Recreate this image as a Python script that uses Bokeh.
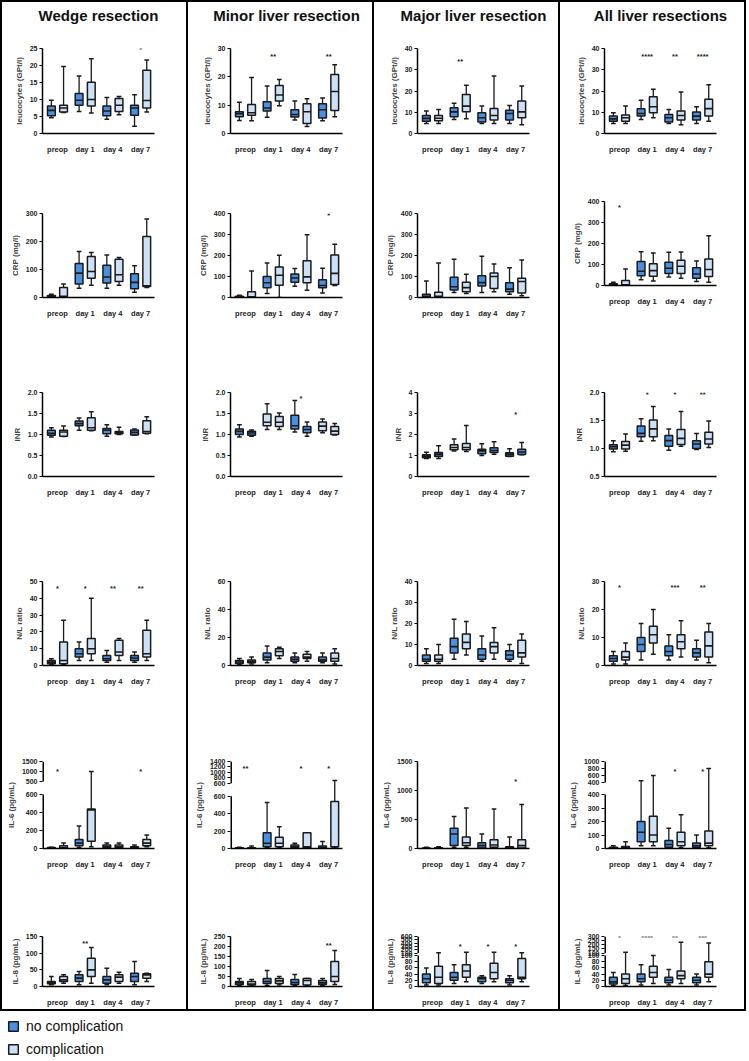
import numpy as np
from bokeh.plotting import figure
from bokeh.layouts import column, row
from bokeh.models import FixedTicker, Range1d, Legend, LegendItem, PrintfTickFormatter
from bokeh.embed import file_html
from bokeh.resources import INLINE
from bokeh.core.properties import value

FONT = "Liberation Sans"
NC_COLOR = "#4a8fe0"
C_COLOR = "#cde1f6"
DARK_COLOR = "#34589c"

groups = ["preop", "day 1", "day 4", "day 7"]
col_titles = ["Wedge resection", "Minor liver resection", "Major liver resection", "All liver resections"]
row_labels = ["leucocytes (GPt/l)", "CRP (mg/l)", "INR", "N/L ratio", "IL-6 (pg/mL)", "IL-8 (pg/mL)"]
legend_labels = ["no complication", "complication"]

# each tuple: (whisker low, Q1, median, Q3, whisker high)
leu_wedge_noc = [(4.6, 5.2, 6.8, 8.1, 9.8), (6.5, 8.3, 9.8, 11.8, 16.9), (4.2, 5.2, 6.6, 8.1, 10.6), (2.1, 5.4, 7.5, 8.3, 11.4)]
leu_wedge_com = [(6.2, 6.3, 7.5, 8.3, 19.7), (6.0, 8.1, 10.0, 15.1, 22.0), (5.5, 6.5, 8.3, 10.3, 10.9), (6.3, 7.5, 9.7, 18.6, 21.6)]
leu_minor_noc = [(4.6, 5.9, 7.0, 7.7, 11.0), (5.7, 7.9, 9.0, 11.2, 16.8), (4.8, 5.8, 6.7, 8.4, 11.5), (4.5, 5.5, 8.4, 10.5, 12.5)]
leu_minor_com = [(4.5, 6.4, 7.3, 10.2, 19.8), (9.8, 11.5, 13.6, 16.9, 19.1), (2.5, 3.5, 7.7, 10.5, 12.3), (5.9, 8.1, 14.8, 20.8, 24.3)]
leu_major_noc = [(4.7, 5.8, 7.1, 8.5, 10.6), (6.6, 7.9, 10.2, 12.1, 14.2), (4.7, 5.4, 7.4, 9.8, 12.9), (4.7, 6.3, 9.4, 11.0, 13.2)]
leu_major_com = [(4.7, 6.0, 7.2, 8.5, 11.3), (6.9, 10.2, 12.9, 18.4, 22.7), (4.7, 6.3, 8.5, 11.8, 27.1), (4.1, 7.4, 10.2, 15.3, 22.4)]
leu_all_noc = [(4.7, 5.8, 6.9, 8.2, 9.8), (6.6, 8.2, 9.4, 11.7, 15.6), (4.7, 5.4, 7.4, 9.0, 11.3), (4.7, 6.3, 8.2, 10.1, 12.6)]
leu_all_com = [(4.7, 5.8, 7.4, 8.7, 12.9), (7.4, 9.8, 12.6, 17.3, 20.8), (4.1, 6.3, 8.5, 10.6, 19.5), (5.8, 8.2, 11.7, 16.1, 23.0)]
leu_sig = [["", "", "", "*"], ["", "**", "", "**"], ["", "**", "", ""], ["", "****", "**", "****"]]
leu_sig_level = [24.8, 27.2, 33.7, 36.2]

crp_wedge_noc = [(1, 2, 5, 7, 12), (33, 48, 87, 121, 164), (33, 52, 73, 115, 152), (19, 31, 54, 85, 113)]
crp_wedge_com = [(1, 2, 4, 36, 48), (44, 69, 93, 146, 161), (44, 57, 81, 137, 143), (36, 39, 42, 218, 280)]
crp_minor_noc = [(0, 0, 3, 6, 11), (19, 46, 70, 100, 164), (54, 73, 93, 112, 138), (22, 47, 57, 84, 139)]
crp_minor_com = [(0, 0, 3, 27, 126), (0, 58, 106, 145, 201), (35, 70, 98, 175, 299), (57, 62, 115, 202, 253)]
crp_major_noc = [(2, 3, 6, 16, 79), (24, 36, 51, 96, 182), (24, 55, 71, 103, 196), (16, 27, 40, 70, 142)]
crp_major_com = [(2, 2, 6, 25, 164), (19, 27, 47, 73, 111), (27, 43, 100, 117, 160), (8, 21, 76, 92, 179)]
crp_all_noc = [(0, 0, 3, 8, 16), (27, 47, 68, 114, 161), (40, 57, 82, 111, 158), (19, 35, 55, 84, 117)]
crp_all_com = [(0, 0, 3, 24, 79), (22, 44, 71, 104, 155), (35, 57, 92, 120, 160), (16, 43, 76, 126, 237)]
crp_sig = [["", "", "", "*"], ["", "", "", "*"], ["", "", "", ""], ["*", "", "", ""]]
crp_sig_level = [305, 392, 390, 373]

inr_wedge_noc = [(0.94, 0.98, 1.03, 1.10, 1.16), (1.10, 1.21, 1.26, 1.32, 1.39), (0.96, 1.02, 1.10, 1.14, 1.23), (0.98, 0.99, 1.05, 1.11, 1.13)]
inr_wedge_com = [(0.95, 0.96, 1.06, 1.10, 1.20), (1.09, 1.10, 1.16, 1.40, 1.54), (1.00, 1.02, 1.05, 1.07, 1.17), (1.02, 1.03, 1.07, 1.33, 1.42)]
inr_minor_noc = [(0.94, 1.00, 1.075, 1.13, 1.23), (1.12, 1.21, 1.29, 1.49, 1.73), (1.06, 1.13, 1.21, 1.46, 1.81), (1.04, 1.09, 1.20, 1.30, 1.37)]
inr_minor_com = [(0.96, 0.98, 1.035, 1.075, 1.11), (1.12, 1.19, 1.29, 1.43, 1.51), (0.96, 1.04, 1.12, 1.19, 1.30), (0.99, 1.00, 1.08, 1.19, 1.26)]
inr_major_noc = [(0.86, 0.89, 0.97, 1.03, 1.16), (1.22, 1.27, 1.38, 1.51, 1.79), (1.00, 1.08, 1.22, 1.30, 1.56), (0.95, 0.97, 1.06, 1.13, 1.32)]
inr_major_com = [(0.86, 0.95, 1.06, 1.14, 1.46), (1.19, 1.27, 1.38, 1.57, 2.43), (1.06, 1.14, 1.24, 1.37, 1.65), (1.03, 1.05, 1.17, 1.30, 1.62)]
inr_all_noc = [(0.94, 0.99, 1.03, 1.065, 1.14), (1.13, 1.21, 1.27, 1.40, 1.53), (0.97, 1.04, 1.14, 1.23, 1.35), (0.98, 1.00, 1.08, 1.14, 1.27)]
inr_all_com = [(0.95, 0.99, 1.06, 1.125, 1.26), (1.14, 1.21, 1.35, 1.51, 1.75), (1.04, 1.07, 1.18, 1.34, 1.66), (1.02, 1.08, 1.17, 1.29, 1.49)]
inr_sig = [["", "", "", ""], ["", "", "*", ""], ["", "", "", "*"], ["", "*", "*", "**"]]
inr_sig_level = [1.9, 1.86, 2.95, 1.97]
# box colours as printed in the source figure (some INR panels use other shades)
inr_minor_fill = ["nc", "nc", "c", "c", "nc", "nc", "c", "c"]
inr_major_fill = ["dark", "dark", "c", "c", "nc", "nc", "dark", "nc"]

nl_wedge_noc = [(0.5, 1, 2, 3, 4), (3, 5, 7, 10, 14), (2, 3, 4, 6, 9), (2, 3, 4.5, 6, 8)]
nl_wedge_com = [(0.5, 1, 3, 14, 27), (3, 7, 10, 16, 40), (3, 6, 8, 15, 16), (3, 5, 7, 21, 27)]
nl_minor_noc = [(0.5, 1.5, 2.5, 3.5, 5), (2, 4, 6, 9, 14), (2, 3, 4.5, 6, 9), (2, 3, 4, 6, 9)]
nl_minor_com = [(1, 2, 3, 4, 6), (5, 7, 10, 12, 13), (3, 5, 6, 8, 10), (1, 3, 5, 9, 12)]
nl_major_noc = [(1, 2, 3, 5, 8), (3, 6, 9, 13, 22), (2, 3, 5, 8, 14), (2, 3, 5, 7, 10)]
nl_major_com = [(1, 2, 3, 5, 10), (5, 8, 11, 15, 21), (3, 6, 9, 11, 18), (1, 4, 6, 12, 15)]
nl_all_noc = [(0.5, 1.5, 2.5, 3.5, 5), (2, 5, 7.5, 10, 15), (2, 3.5, 5, 7, 11), (2, 3, 4.5, 6, 9)]
nl_all_com = [(0.5, 2, 3, 5, 8), (4, 8, 11, 14, 20), (3, 6, 8.5, 11, 16), (1, 3, 7, 12, 15)]
nl_sig = [["*", "*", "**", "**"], ["", "", "", ""], ["", "", "", ""], ["*", "", "***", "**"]]
nl_sig_level = [46, 55, 37, 28]

il6_wedge_noc = [(0, 2, 5, 10, 15), (10, 30, 60, 100, 250), (5, 10, 20, 40, 60), (2, 5, 10, 20, 40)]
il6_wedge_com = [(2, 5, 10, 30, 60), (20, 80, 430, 440, 1000), (5, 10, 20, 40, 60), (20, 30, 60, 100, 150)]
il6_minor_noc = [(0, 2, 4, 8, 15), (10, 20, 60, 180, 530), (5, 10, 20, 40, 60), (2, 5, 10, 30, 80)]
il6_minor_com = [(0, 2, 5, 10, 30), (10, 20, 60, 130, 250), (5, 10, 20, 180, 180), (5, 20, 20, 540, 700)]
il6_major_noc = [(0, 2, 5, 10, 20), (20, 50, 250, 350, 550), (5, 10, 50, 100, 250), (2, 5, 10, 30, 200)]
il6_major_com = [(0, 2, 5, 15, 30), (20, 50, 100, 200, 700), (10, 20, 60, 150, 680), (5, 10, 50, 150, 760)]
il6_all_noc = [(0, 2, 5, 10, 20), (20, 50, 120, 200, 450), (5, 10, 30, 60, 150), (2, 10, 20, 40, 100)]
il6_all_com = [(0, 2, 5, 15, 50), (20, 50, 100, 240, 600), (5, 20, 50, 120, 250), (5, 20, 40, 130, 800)]
il6_sig = [["*", "", "", "*"], ["**", "", "*", "*"], ["", "", "", "*"], ["", "", "*", "*"]]
il6_sig_level = [1000, 1150, 1150, 700]

il8_wedge_noc = [(5, 8, 12, 15, 30), (5, 15, 25, 35, 45), (5, 10, 20, 30, 55), (5, 15, 30, 40, 75)]
il8_wedge_com = [(10, 15, 20, 30, 35), (10, 30, 50, 85, 117), (10, 15, 28, 35, 43), (15, 25, 35, 38, 40)]
il8_minor_noc = [(5, 10, 18, 25, 40), (5, 15, 25, 40, 80), (5, 10, 20, 35, 60), (5, 10, 18, 30, 40)]
il8_minor_com = [(3, 8, 12, 25, 35), (8, 15, 28, 40, 50), (5, 8, 30, 40, 40), (10, 25, 50, 125, 180)]
il8_major_noc = [(5, 12, 25, 40, 60), (10, 20, 30, 45, 70), (10, 15, 25, 30, 35), (5, 12, 20, 25, 35)]
il8_major_com = [(5, 10, 30, 65, 110), (15, 30, 50, 70, 120), (15, 25, 45, 75, 120), (15, 25, 30, 90, 110)]
il8_all_noc = [(3, 8, 15, 30, 45), (5, 15, 25, 40, 70), (5, 12, 20, 30, 55), (5, 12, 20, 30, 40)]
il8_all_com = [(3, 10, 25, 40, 110), (10, 30, 45, 65, 100), (10, 25, 35, 50, 230), (15, 30, 40, 80, 220)]
il8_sig = [["", "**", "", ""], ["", "", "", "**"], ["", "*", "*", "*"], ["*", "****", "**", "***"]]
il8_sig_level = [128, 205, 300, 290]


def lin(lo, hi, ticks, fmt="%d"):
    return dict(kind="lin", lo=lo, hi=hi, ticks=ticks, fmt=fmt)


def brk(lower, upper, lticks, uticks, frac, gap):
    return dict(kind="brk", lower=lower, upper=upper, lticks=lticks, uticks=uticks, frac=frac, gap=gap)


yspecs = [
    [lin(0, 25, [0, 5, 10, 15, 20, 25]), lin(0, 30, [0, 10, 20, 30]), lin(0, 40, [0, 10, 20, 30, 40]), lin(0, 40, [0, 10, 20, 30, 40])],
    [lin(0, 300, [0, 100, 200, 300]), lin(0, 400, [0, 100, 200, 300, 400]), lin(0, 400, [0, 100, 200, 300, 400]), lin(0, 400, [0, 100, 200, 300, 400])],
    [lin(0, 2, [0, 0.5, 1, 1.5, 2], "%.1f"), lin(0, 2, [0, 0.5, 1, 1.5, 2], "%.1f"), lin(0, 4, [0, 1, 2, 3, 4]), lin(0.5, 2, [0.5, 1, 1.5, 2], "%.1f")],
    [lin(0, 50, [0, 10, 20, 30, 40, 50]), lin(0, 60, [0, 20, 40, 60]), lin(0, 40, [0, 10, 20, 30, 40]), lin(0, 30, [0, 10, 20, 30])],
    [brk((0, 600), (500, 1500), [0, 200, 400, 600], [500, 1000, 1500], 0.62, 0.15),
     brk((0, 600), (600, 1400), [0, 200, 400, 600], [600, 800, 1000, 1200, 1400], 0.6, 0.15),
     lin(0, 1500, [0, 500, 1000, 1500]),
     brk((0, 400), (400, 1000), [0, 100, 200, 300, 400], [400, 600, 800, 1000], 0.62, 0.14)],
    [lin(0, 150, [0, 50, 100, 150]), lin(0, 250, [0, 50, 100, 150, 200, 250]),
     brk((0, 100), (100, 600), [0, 20, 40, 60, 80, 100], [100, 200, 300, 400, 500, 600], 0.62, 0.05),
     brk((0, 100), (100, 300), [0, 20, 40, 60, 80, 100], [100, 150, 200, 250, 300], 0.62, 0.05)],
]

data = [
    [(leu_wedge_noc, leu_wedge_com), (leu_minor_noc, leu_minor_com), (leu_major_noc, leu_major_com), (leu_all_noc, leu_all_com)],
    [(crp_wedge_noc, crp_wedge_com), (crp_minor_noc, crp_minor_com), (crp_major_noc, crp_major_com), (crp_all_noc, crp_all_com)],
    [(inr_wedge_noc, inr_wedge_com), (inr_minor_noc, inr_minor_com), (inr_major_noc, inr_major_com), (inr_all_noc, inr_all_com)],
    [(nl_wedge_noc, nl_wedge_com), (nl_minor_noc, nl_minor_com), (nl_major_noc, nl_major_com), (nl_all_noc, nl_all_com)],
    [(il6_wedge_noc, il6_wedge_com), (il6_minor_noc, il6_minor_com), (il6_major_noc, il6_major_com), (il6_all_noc, il6_all_com)],
    [(il8_wedge_noc, il8_wedge_com), (il8_minor_noc, il8_minor_com), (il8_major_noc, il8_major_com), (il8_all_noc, il8_all_com)],
]
sigs = [leu_sig, crp_sig, inr_sig, nl_sig, il6_sig, il8_sig]
sig_levels = [leu_sig_level, crp_sig_level, inr_sig_level, nl_sig_level, il6_sig_level, il8_sig_level]
fills = {(2, 1): inr_minor_fill, (2, 2): inr_major_fill}
fill_map = {"nc": NC_COLOR, "c": C_COLOR, "dark": DARK_COLOR}

# ---------------- layout geometry (page pixels) ----------------
COL_W = 184          # inner width of each column panel
FRAME_W = 112
LEFTS = [40, 42, 43, 44]
frame_tops = [
    [49, 214, 393, 582, 762, 937],
    [49, 214, 393, 582, 762, 937],
    [49, 214, 393, 582, 762, 937],
    [49, 202, 393, 582, 762, 937],
]
frame_hs = [85, 84, 84, 84, 87, 58]
TITLE_START = 3
TITLE_H = 36


def transform(spec):
    if spec["kind"] == "lin":
        return (lambda v: v), None
    a0, a1 = spec["lower"]
    b0, b1 = spec["upper"]
    f, g = spec["frac"], spec["gap"]

    def low(v):
        return (v - a0) / (a1 - a0) * f * 1000

    def up(v):
        return (f + g + (v - b0) / (b1 - b0) * (1 - f - g)) * 1000

    def T(v):
        if v <= a1:
            return low(v)
        if v >= b0:
            return up(v)
        return (f + g * (v - a1) / (b0 - a1)) * 1000
    return T, (low, up)


def style_axes(p, spec, ylabel):
    p.xgrid.visible = False
    p.ygrid.visible = False
    p.outline_line_color = None
    p.xaxis.ticker = FixedTicker(ticks=[1, 2, 3, 4])
    p.xaxis.major_label_overrides = {i + 1: g for i, g in enumerate(groups)}
    p.xaxis.major_tick_line_color = None
    p.xaxis.minor_tick_line_color = None
    p.xaxis.axis_line_width = 1.5
    p.xaxis.major_label_text_font = FONT
    p.xaxis.major_label_text_font_style = "bold"
    p.xaxis.major_label_text_font_size = "7.5px"
    p.xaxis.major_label_text_color = "#222222"
    p.xaxis.major_label_standoff = 5
    p.yaxis.axis_line_width = 1.5
    p.yaxis.major_tick_out = 3
    p.yaxis.major_tick_in = 0
    p.yaxis.major_tick_line_width = 1.2
    p.yaxis.minor_tick_line_color = None
    p.yaxis.major_label_text_font = FONT
    p.yaxis.major_label_text_font_style = "bold"
    p.yaxis.major_label_text_font_size = "7px"
    p.yaxis.major_label_text_color = "#222222"
    p.yaxis.major_label_standoff = 2
    p.yaxis.axis_label = ylabel
    p.yaxis.axis_label_text_font = FONT
    p.yaxis.axis_label_text_font_style = "bold"
    p.yaxis.axis_label_text_font_size = "8px"
    p.yaxis.axis_label_standoff = 3
    if spec["kind"] == "lin":
        p.yaxis.ticker = FixedTicker(ticks=spec["ticks"])
        if spec["fmt"] != "%d":
            p.yaxis.formatter = PrintfTickFormatter(format=spec["fmt"])
    else:
        _, (low, up) = transform(spec)
        pos, lab = [], {}
        for t in spec["lticks"]:
            k = int(round(low(t)))
            pos.append(k)
            lab[k] = str(t)
        for t in spec["uticks"]:
            k = int(round(up(t)))
            pos.append(k)
            lab[k] = str(t)
        p.yaxis.ticker = FixedTicker(ticks=pos)
        p.yaxis.major_label_overrides = lab


def make_panel(ci, ri, top, fh, bottom):
    spec = yspecs[ri][ci]
    T, parts = transform(spec)
    if spec["kind"] == "lin":
        y0, y1 = spec["lo"], spec["hi"]
    else:
        y0, y1 = 0, 1000
    left = LEFTS[ci]
    x0 = 0.46
    p = figure(width=COL_W, height=top + fh + bottom,
               x_range=Range1d(x0, 4.5), y_range=Range1d(y0, y1),
               output_backend="svg", toolbar_location=None,
               min_border_left=left, min_border_right=COL_W - left - FRAME_W,
               min_border_top=top, min_border_bottom=bottom,
               background_fill_color="white", border_fill_color="white")
    style_axes(p, spec, row_labels[ri])
    if spec["kind"] == "brk":
        # broken y axis: draw the axis line in two pieces
        low, up = parts
        p.yaxis.axis_line_color = None
        p.segment([x0, x0], [0, up(spec["upper"][0])], [x0, x0], [low(spec["lower"][1]), 1000],
                  line_color="black", line_width=3)
    noc, com = data[ri][ci]
    fl = fills.get((ri, ci))
    xs, lo, q1, md, q3, hi, col = [], [], [], [], [], [], []
    for gi in range(4):
        for si, series in enumerate((noc, com)):
            st = series[gi]
            xs.append(gi + 1 + (-0.22 if si == 0 else 0.22))
            lo.append(T(st[0])); q1.append(T(st[1])); md.append(T(st[2])); q3.append(T(st[3])); hi.append(T(st[4]))
            if fl is not None:
                col.append(fill_map[fl[gi * 2 + si]])
            else:
                col.append(NC_COLOR if si == 0 else C_COLOR)
    xs = np.array(xs)
    bw, cw = 0.14, 0.085
    lc = "#1a1a1a"
    p.segment(xs, q3, xs, hi, line_color=lc, line_width=1.3)
    p.segment(xs, lo, xs, q1, line_color=lc, line_width=1.3)
    p.segment(xs - cw, hi, xs + cw, hi, line_color=lc, line_width=1.5)
    p.segment(xs - cw, lo, xs + cw, lo, line_color=lc, line_width=1.5)
    p.quad(left=xs - bw, right=xs + bw, bottom=q1, top=q3, fill_color=col, line_color=lc, line_width=1.5)
    p.segment(xs - bw, md, xs + bw, md, line_color=lc, line_width=1.6)
    sg = sigs[ri][ci]
    lvl = T(sig_levels[ri][ci])
    sx = [i + 1 for i, s in enumerate(sg) if s]
    st = [s for s in sg if s]
    if st:
        p.text(x=sx, y=[lvl] * len(sx), text=st, text_align="center", text_baseline="middle",
               text_font=value(FONT), text_font_style="bold", text_font_size="7.5px", text_color="#222222")
    return p


def make_title(text):
    p = figure(width=COL_W, height=TITLE_H, x_range=Range1d(0, 1), y_range=Range1d(0, 1),
               output_backend="svg", toolbar_location=None, x_axis_type=None, y_axis_type=None,
               min_border=0, outline_line_color=None, title=text)
    p.xgrid.visible = False
    p.ygrid.visible = False
    p.title.align = "center"
    p.title.text_font = FONT
    p.title.text_font_style = "bold"
    p.title.text_font_size = "15px"
    p.title.text_color = "#111111"
    p.title.standoff = 4
    return p


cols = []
for ci in range(4):
    children = [make_title(col_titles[ci])]
    start = TITLE_START + TITLE_H
    for ri in range(6):
        ft = frame_tops[ci][ri]
        fh = frame_hs[ri]
        top = ft - start
        bottom = 28 if ri < 5 else 15
        children.append(make_panel(ci, ri, top, fh, bottom))
        start = ft + fh + bottom
    cols.append(column(*children, spacing=0, styles={"border": "1px solid black"}))

grid = row(*cols, spacing=0, styles={"border": "1px solid black"})

lf = figure(width=320, height=46, x_range=Range1d(0, 1), y_range=Range1d(0, 1),
            output_backend="svg", toolbar_location=None, x_axis_type=None, y_axis_type=None,
            min_border=0, outline_line_color=None)
lf.xgrid.visible = False
lf.ygrid.visible = False
r1 = lf.quad(left=[5], right=[6], top=[6], bottom=[5], fill_color=NC_COLOR, line_color="#1a1a1a", line_width=1.5)
r2 = lf.quad(left=[5], right=[6], top=[6], bottom=[5], fill_color=C_COLOR, line_color="#1a1a1a", line_width=1.5)
leg = Legend(items=[LegendItem(label=legend_labels[0], renderers=[r1]),
                    LegendItem(label=legend_labels[1], renderers=[r2])],
             location="top_left", border_line_color=None, background_fill_alpha=0,
             glyph_width=12, glyph_height=12, label_text_font=FONT, label_text_font_size="14px",
             label_text_color="#111111",
             label_standoff=7, spacing=7, padding=0, margin=7, label_height=12)
lf.add_layout(leg)

page = column(grid, lf, spacing=0)
open("out.html", "w").write(file_html(page, INLINE))
